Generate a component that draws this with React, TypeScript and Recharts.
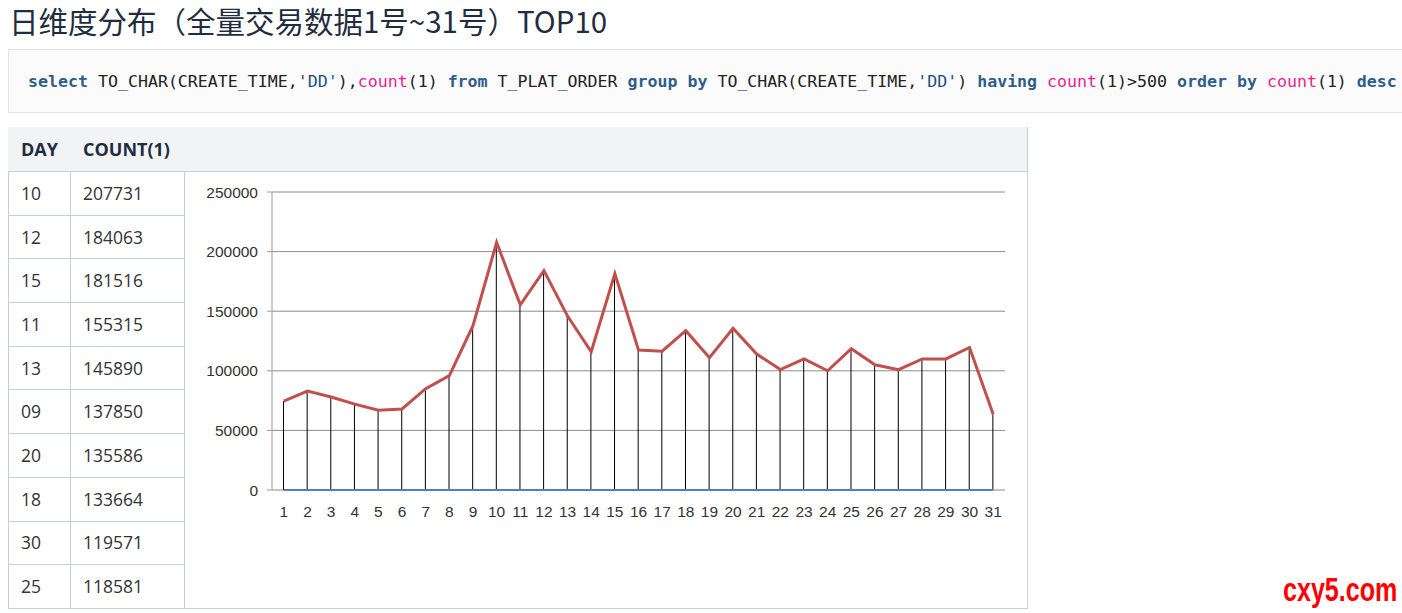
import React from "react";
import {
    ComposedChart,
    Bar,
    Line,
    XAxis,
    YAxis,
    CartesianGrid
} from "recharts";

// day of month, 1..31
const days = [
    1, 2, 3, 4, 5, 6, 7, 8, 9, 10, 11, 12, 13, 14, 15, 16,
    17, 18, 19, 20, 21, 22, 23, 24, 25, 26, 27, 28, 29, 30, 31
];

// order count per day (exact where the table gives it)
const counts = [
    74500, 83000, 78000, 72000, 67000, 68000, 85000, 96000, 137850, 207731,
    155315, 184063, 145890, 116000, 181516, 117500, 116500, 133664, 111000,
    135586, 114000, 101000, 110000, 100000, 118581, 105000, 101000, 110000,
    110000, 119571, 63500
];

const yTicks = [0, 50000, 100000, 150000, 200000, 250000];

const topDays = ["10", "12", "15", "11", "13", "09", "20", "18", "30", "25"];
const topCounts = [207731, 184063, 181516, 155315, 145890, 137850, 135586, 133664, 119571, 118581];

const chartData = days.map((d, i) => ({ day: d, count: counts[i] }));

const BORDER = "#c9ced6";
const NAVY = "#1f2d3f";

const kw = { color: "#2f5d8c", fontWeight: 700 };
const fn = { color: "#ec1e8c" };
const str = { color: "#1d4f86" };

function SqlLine() {
    return (
        <div style={{ position: "absolute", left: 28, top: 71, whiteSpace: "pre", fontFamily: "'DejaVu Sans Mono', monospace", fontSize: 16.6, lineHeight: "22px", color: "#222" }}>
            <span style={kw}>select</span>{" TO_CHAR(CREATE_TIME,"}<span style={str}>'DD'</span>{"),"}
            <span style={fn}>count</span>{"(1) "}<span style={kw}>from</span>{" T_PLAT_ORDER "}
            <span style={kw}>group by</span>{" TO_CHAR(CREATE_TIME,"}<span style={str}>'DD'</span>{") "}
            <span style={kw}>having</span>{" "}<span style={fn}>count</span>{"(1)>500 "}
            <span style={kw}>order by</span>{" "}<span style={fn}>count</span>{"(1) "}<span style={kw}>desc</span>
        </div>
    );
}

function TopTable() {
    const rowH = 43.7;
    const cell = (left: number, top: number, w: number, h: number, extra: React.CSSProperties = {}) => ({
        position: "absolute" as const,
        left, top, width: w, height: h,
        borderRight: `1px solid ${BORDER}`,
        borderBottom: `1px solid ${BORDER}`,
        boxSizing: "border-box" as const,
        display: "flex",
        alignItems: "center",
        paddingLeft: 13,
        ...extra
    });
    return (
        <div>
            <div style={{ position: "absolute", left: 8, top: 127, width: 1020, height: 482, border: `1px solid ${BORDER}`, boxSizing: "border-box" }} />
            <div style={cell(8, 127, 63, 45, { background: "#f2f3f5", fontWeight: 700, color: NAVY, fontSize: 18 })}>DAY</div>
            <div style={cell(70, 127, 115, 45, { background: "#f2f3f5", fontWeight: 700, color: NAVY, fontSize: 18 })}>COUNT(1)</div>
            <div style={cell(184, 127, 844, 45, { background: "#f2f3f5" })} />
            {topDays.map((d, i) => (
                <React.Fragment key={d}>
                    <div style={cell(8, 171 + i * rowH, 63, rowH + 1)}>{d}</div>
                    <div style={cell(70, 171 + i * rowH, 115, rowH + 1)}>{topCounts[i]}</div>
                </React.Fragment>
            ))}
        </div>
    );
}

export default function App() {
    return (
        <div style={{ position: "absolute", left: 0, top: 0, width: 1402, height: 613, background: "#fff", fontFamily: "'Open Sans', 'Noto Sans', sans-serif", fontSize: 17.5, color: "#333", overflow: "hidden" }}>
            <div style={{ position: "absolute", left: 9, top: 0, fontFamily: "'Noto Sans CJK SC', sans-serif", fontSize: 29.5, lineHeight: "40px", color: NAVY }}>
                日维度分布（全量交易数据1号~31号）TOP10
            </div>

            <div style={{ position: "absolute", left: 8, top: 49, width: 1410, height: 64, background: "#fbfbfc", border: "1px solid #e3e3e3", boxSizing: "border-box" }} />
            <SqlLine />

            <TopTable />

            <div style={{ position: "absolute", left: 185, top: 172 }}>
                <ComposedChart
                    width={842}
                    height={436}
                    data={chartData}
                    margin={{ top: 20, right: 22, bottom: 88, left: 0 }}
                >
                    <CartesianGrid vertical={false} stroke="#8c8c8c" />
                    <XAxis
                        dataKey="day"
                        axisLine={false}
                        tickLine={false}
                        tickSize={6}
                        tickMargin={10}
                        interval={0}
                        tick={{ fill: "#333", fontSize: 15.5, fontFamily: "'Liberation Sans', Arial" }}
                    />
                    <YAxis
                        width={87}
                        domain={[0, 250000]}
                        ticks={yTicks}
                        stroke="#9a9a9a"
                        tickSize={5}
                        tickMargin={9}
                        tick={{ fill: "#333", fontSize: 15.5, fontFamily: "'Liberation Sans', Arial" }}
                    />
                    <Bar dataKey="count" barSize={1} fill="#000" isAnimationActive={false} />
                    <Line dataKey="count" stroke="#c0504d" strokeWidth={3} dot={false} type="linear" isAnimationActive={false} />
                    <Line dataKey="day" stroke="#4f81bd" strokeWidth={2} dot={false} type="linear" isAnimationActive={false} />
                </ComposedChart>
            </div>

            <div style={{ position: "absolute", left: 1283, top: 570, fontFamily: "'Liberation Sans', Arial", fontWeight: 700, fontSize: 33, color: "#ff0000", transform: "scaleX(0.76)", transformOrigin: "left top", lineHeight: "40px" }}>
                cxy5.com
            </div>
        </div>
    );
}
